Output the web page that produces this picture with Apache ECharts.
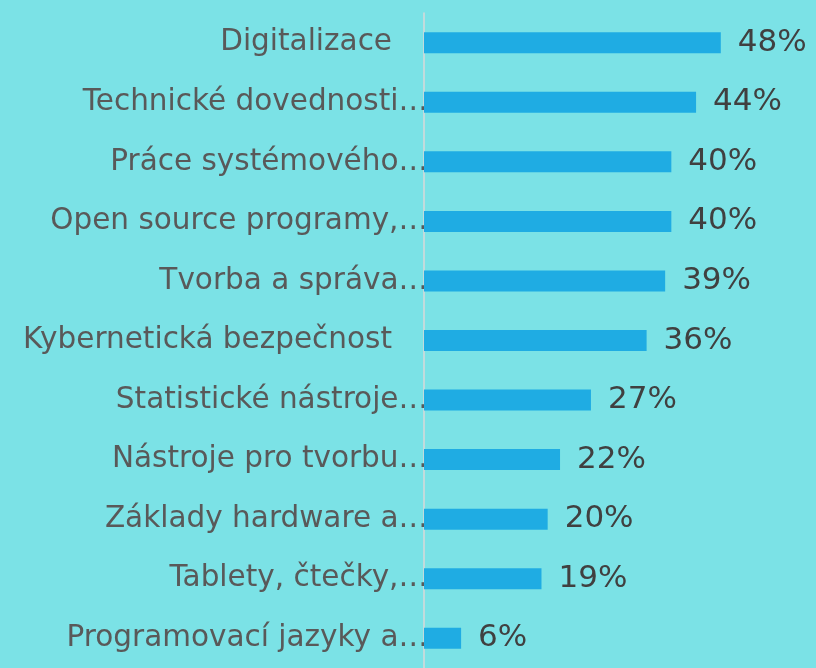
<!DOCTYPE html>
<html>
<head>
<meta charset="utf-8">
<script src="https://cdn.jsdelivr.net/npm/echarts@6/dist/echarts.min.js"></script>
<style>
  html, body { margin: 0; padding: 0; background: #7be2e6; }
  #chart { width: 816px; height: 668px; }
</style>
</head>
<body>
<div id="chart"></div>
<script>
// kategorie (zkrácené popisky tak, jak jsou v grafu)
var categories = [
  "Digitalizace",
  "Technické dovednosti…",
  "Práce systémového…",
  "Open source programy,…",
  "Tvorba a správa…",
  "Kybernetická bezpečnost",
  "Statistické nástroje…",
  "Nástroje pro tvorbu…",
  "Základy hardware a…",
  "Tablety, čtečky,…",
  "Programovací jazyky a…"
];
// hodnoty v procentech
var values = [48, 44, 40, 40, 39, 36, 27, 22, 20, 19, 6];

var chart = echarts.init(document.getElementById("chart"));

chart.setOption({
  backgroundColor: "#7be2e6",
  animation: false,
  grid: { left: 424, right: 21, top: 13, bottom: -7, containLabel: false },
  xAxis: {
    type: "value",
    min: 0,
    max: 60,
    show: false
  },
  yAxis: {
    type: "category",
    data: categories,
    inverse: true,
    axisLine: { show: true, lineStyle: { color: "#d9d9d9", width: 1.5 } },
    axisTick: { show: false },
    axisLabel: {
      margin: -4,
      color: "#595959",
      fontFamily: "DejaVu Sans",
      fontSize: 29.5,
      // celé popisky mají místo "…" mezeru, aby končily na stejném místě
      formatter: function (name) {
        if (name.slice(-1) === "…") return name;
        return name + "{s| }";
      },
      rich: { s: { width: 36 } }
    }
  },
  series: [{
    type: "bar",
    data: values,
    barWidth: 21,
    itemStyle: { color: "#1facE3" },
    label: {
      show: true,
      position: "right",
      distance: 17,
      color: "#404040",
      fontFamily: "DejaVu Sans",
      fontSize: 31,
      formatter: "{c}%"
    }
  }]
});
</script>
</body>
</html>
